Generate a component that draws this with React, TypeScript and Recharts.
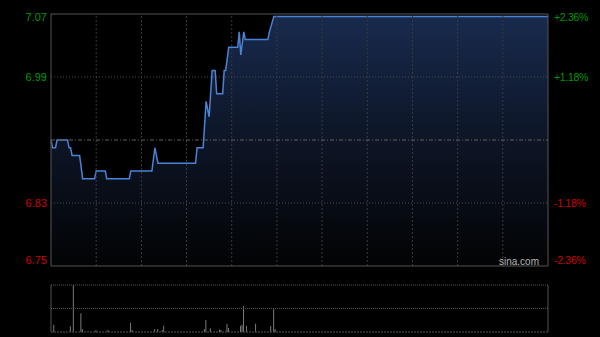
import React from "react";
import { ComposedChart, Area, Bar, XAxis, YAxis, ReferenceLine } from "recharts";

// previous close and limits of the price scale (±2.36%)
const prevClose = 6.91;
const pctRange = 2.36;

// minute index (0 = 09:30, 150 = 12:00/13:00, 330 = 16:00) and price
const priceMinutes = [0, 1, 3, 4, 11, 12, 13, 14, 19, 21, 29, 30, 36, 37, 52, 53, 67, 69, 71, 96, 97, 101, 103, 105, 107, 109, 110, 114, 115, 116, 118, 124, 125, 126, 128, 129, 144, 145, 148, 330];
const priceValues = [6.91, 6.9, 6.9, 6.91, 6.91, 6.9, 6.9, 6.89, 6.89, 6.86, 6.86, 6.87, 6.87, 6.86, 6.86, 6.87, 6.87, 6.9, 6.88, 6.88, 6.9, 6.9, 6.96, 6.94, 7.0, 7.0, 6.97, 6.97, 7.0, 7.0, 7.03, 7.03, 7.05, 7.02, 7.05, 7.04, 7.04, 7.05, 7.07, 7.07];

// minute index and volume (10k shares)
const volMinutes = [2, 13, 15, 20, 21, 30, 38, 53, 54, 69, 71, 74, 75, 102, 103, 106, 112, 113, 117, 118, 126, 127, 128, 130, 136, 146, 148, 149];
const volValues = [7.3, 5.7, 47, 18.7, 3, 2, 2, 9.3, 2, 3, 3, 2, 6.3, 3, 12, 3.7, 2.5, 2, 8, 4, 6, 7.3, 26, 6.3, 8.3, 6, 23.7, 3];

const gridMinutes = [30, 60, 90, 120, 150, 180, 210, 240, 270, 300];

const priceLow = prevClose * (1 - pctRange / 100);
const priceHigh = prevClose * (1 + pctRange / 100);
const priceTicks = [priceHigh, prevClose + (priceHigh - prevClose) / 2, prevClose - (prevClose - priceLow) / 2, priceLow];
const pctTicks = [pctRange, pctRange / 2, -pctRange / 2, -pctRange];

const priceData = priceMinutes.map((m, i) => ({ minute: m, price: priceValues[i] }));
const volData = volMinutes.map((m, i) => ({ minute: m, volume: volValues[i] }));
const volMax = Math.max(...volValues);

const GREEN = "#009a00";
const RED = "#d00000";
const FRAME = "#555555";
const FONT = "Arial, 'Liberation Sans', sans-serif";

function shift(index: number, count: number) {
  if (index === 0) return 3;
  if (index === count - 1) return -6;
  return 0;
}

const PriceTick = (props: any) => {
  const { x, y, payload, index } = props;
  const up = payload.value > prevClose;
  return (
    <text x={x} y={y + shift(index, 4)} textAnchor="end" dominantBaseline="central" fontSize={11} fontFamily={FONT} fill={up ? GREEN : RED}>
      {Number(payload.value).toFixed(2)}
    </text>
  );
};

const PctTick = (props: any) => {
  const { x, y, payload, index } = props;
  const v = payload.value;
  return (
    <text x={x} y={y + shift(index, 4)} textAnchor="start" dominantBaseline="central" fontSize={10.5} letterSpacing={-0.3} fontFamily={FONT} fill={v > 0 ? GREEN : RED}>
      {(v > 0 ? "+" : "") + v.toFixed(2) + "%"}
    </text>
  );
};

export default function App() {
  return (
    <div style={{ position: "fixed", left: 0, top: 0, width: 600, height: 337, background: "#000", overflow: "hidden" }}>
      <div style={{ position: "absolute", left: 0, top: 0 }}>
        <ComposedChart width={600} height={280} data={priceData} margin={{ top: 14, right: 0, bottom: 14, left: 0 }}>
          <defs>
            <linearGradient id="priceFill" x1="0" y1="0" x2="0" y2="1">
              <stop offset="0%" stopColor="#182a4d" />
              <stop offset="55%" stopColor="#0c1322" />
              <stop offset="100%" stopColor="#020304" />
            </linearGradient>
          </defs>
          <XAxis dataKey="minute" type="number" domain={[0, 330]} hide />
          <YAxis
            yAxisId="price"
            width={51}
            domain={[priceLow, priceHigh]}
            ticks={priceTicks}
            allowDataOverflow
            axisLine={{ stroke: FRAME }}
            tickLine={false}
            tickSize={0}
            tickMargin={4}
            tick={<PriceTick />}
            interval={0}
          />
          <YAxis
            yAxisId="pct"
            orientation="right"
            width={52}
            domain={[-pctRange, pctRange]}
            ticks={pctTicks}
            allowDataOverflow
            axisLine={{ stroke: FRAME }}
            tickLine={false}
            tickSize={0}
            tickMargin={6}
            tick={<PctTick />}
            interval={0}
          />
          {gridMinutes.map((m) => (
            <ReferenceLine key={m} yAxisId="price" x={m} stroke="#3a3a3a" strokeDasharray="2 2" />
          ))}
          <ReferenceLine yAxisId="price" y={priceTicks[1]} stroke="#4a4a4a" strokeDasharray="1 2" />
          <ReferenceLine yAxisId="price" y={priceTicks[2]} stroke="#4a4a4a" strokeDasharray="1 2" />
          <ReferenceLine yAxisId="price" y={prevClose} stroke="#606060" strokeDasharray="4 2 1 2" />
          <ReferenceLine yAxisId="price" y={priceHigh} stroke={FRAME} />
          <ReferenceLine yAxisId="price" y={priceLow} stroke={FRAME} />
          <Area
            yAxisId="price"
            type="linear"
            dataKey="price"
            stroke="#4a83d6"
            strokeWidth={1.5}
            fill="url(#priceFill)"
            fillOpacity={1}
            dot={false}
            activeDot={false}
            isAnimationActive={false}
          />
        </ComposedChart>
      </div>
      <div style={{ position: "absolute", left: 499, top: 255, color: "#b5b5b5", fontSize: 10, fontFamily: FONT, lineHeight: "13px" }}>
        sina.com
      </div>
      <div style={{ position: "absolute", left: 0, top: 280 }}>
        <ComposedChart width={600} height={57} data={volData} margin={{ top: 5, right: 52, bottom: 5, left: 51 }}>
          <XAxis dataKey="minute" type="number" domain={[0, 330]} hide />
          <YAxis domain={[0, volMax]} hide />
          <ReferenceLine y={volMax} stroke={FRAME} strokeDasharray="1 1" />
          <ReferenceLine y={volMax / 2} stroke={FRAME} strokeDasharray="1 1" />
          <ReferenceLine y={0} stroke={FRAME} strokeDasharray="2 1" />
          <ReferenceLine x={0} stroke={FRAME} />
          <ReferenceLine x={330} stroke={FRAME} />
          <Bar dataKey="volume" fill="#7a7a7a" barSize={1} isAnimationActive={false} />
        </ComposedChart>
      </div>
    </div>
  );
}
